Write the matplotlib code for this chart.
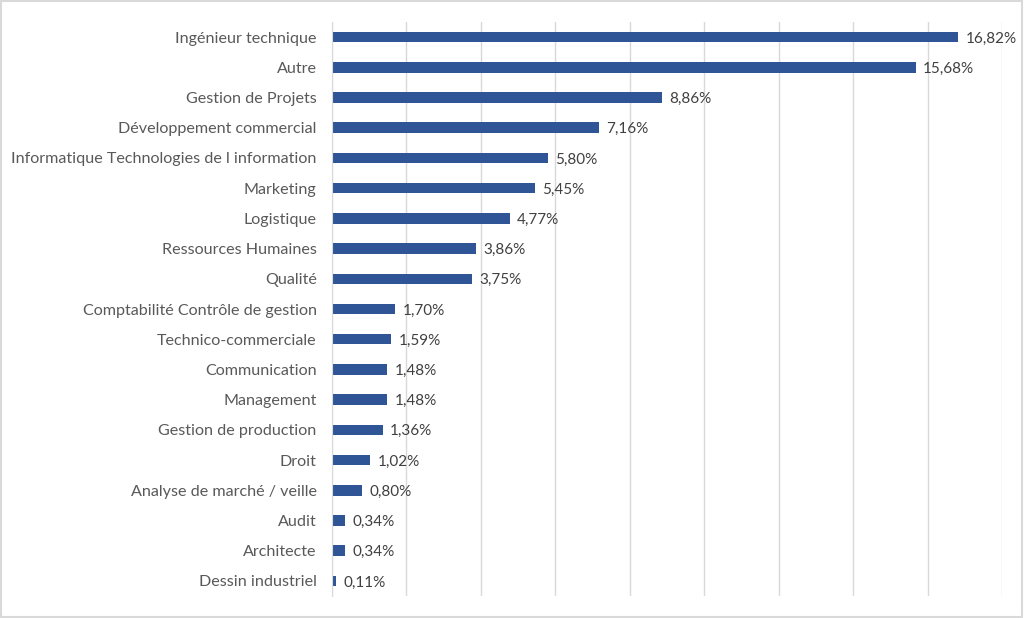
import matplotlib.pyplot as plt
from matplotlib.patches import Rectangle

# Data (top to bottom)
categories = [
    "Ingénieur technique", "Autre", "Gestion de Projets", "Développement commercial",
    "Informatique Technologies de l information", "Marketing", "Logistique",
    "Ressources Humaines", "Qualité", "Comptabilité Contrôle de gestion",
    "Technico-commerciale", "Communication", "Management", "Gestion de production",
    "Droit", "Analyse de marché / veille", "Audit", "Architecte", "Dessin industriel",
]
values = [16.82, 15.68, 8.86, 7.16, 5.80, 5.45, 4.77, 3.86, 3.75, 1.70,
          1.59, 1.48, 1.48, 1.36, 1.02, 0.80, 0.34, 0.34, 0.11]
labels = [f"{v:.2f}%".replace(".", ",") for v in values]

bar_color = "#2F5597"
text_color = "#595959"
plt.rcParams['font.family'] = ['Lato', 'DejaVu Sans']

fig = plt.figure(figsize=(10.24, 6.18), dpi=100)
ax = fig.add_axes([332 / 1024, 1 - 596 / 618, (1002 - 332) / 1024, (596 - 22) / 618])

ypos = list(range(len(categories)))
ax.barh(ypos, values, height=0.35, color=bar_color, zorder=3)
for y, v, lab in zip(ypos, values, labels):
    ax.text(v + 0.2, y + 0.05, lab, va='center', ha='left', fontsize=11, color='#404040')

ax.set_xlim(0, 18)
ax.set_ylim(len(categories) - 0.5, -0.5)
ax.set_xticks(range(0, 19, 2))
ax.set_xticklabels([])
ax.set_yticks(ypos)
ax.set_yticklabels(categories, fontsize=11.6, color=text_color)
ax.tick_params(axis='both', length=0)
ax.tick_params(axis='y', pad=11)
ax.grid(axis='x', color='#D9D9D9', linewidth=1, zorder=0)
for s in ['top', 'right', 'bottom']:
    ax.spines[s].set_visible(False)
ax.spines['left'].set_color('#D9D9D9')
ax.spines['left'].set_zorder(4)

fig.patches.append(Rectangle((0.001, 0.002), 0.997, 0.996, transform=fig.transFigure,
                             fill=False, edgecolor='#D9D9D9', linewidth=1.5))

fig.savefig("out.png", dpi=100)
